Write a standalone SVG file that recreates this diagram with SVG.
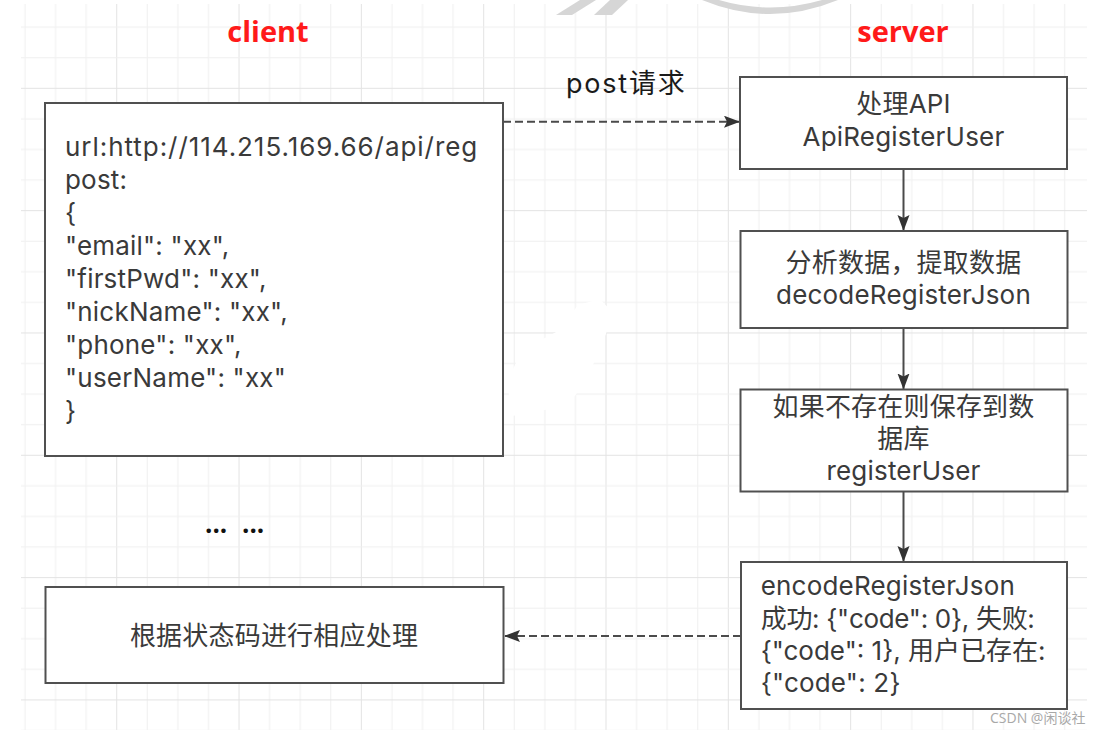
<svg xmlns="http://www.w3.org/2000/svg" width="1105" height="737" viewBox="0 0 1105 737">
<style>
.box{fill:#fff;stroke:#505050;stroke-width:2}
.t{font-family:Inter,"Noto Sans CJK SC",sans-serif;font-size:26px;fill:#3a3a3a;letter-spacing:0.2px}
.c{text-anchor:middle}
.title{font-family:"Open Sans","Noto Sans CJK SC",sans-serif;font-size:29px;font-weight:bold;fill:#ff1a1a;text-anchor:middle}
.edge{fill:none;stroke:#4a4a4a;stroke-width:2}
.dash{stroke-dasharray:8 4}
</style>
<defs>
<pattern id="grid" patternUnits="userSpaceOnUse" x="-6.1" y="-34.5" width="122.32" height="122.32">
<rect x="0" y="0" width="1" height="122.32" fill="#e3e3e3"/>
<rect x="30.58" y="0" width="1" height="122.32" fill="#f0f0f0"/>
<rect x="61.16" y="0" width="1" height="122.32" fill="#f0f0f0"/>
<rect x="91.74" y="0" width="1" height="122.32" fill="#f0f0f0"/>
<rect x="0" y="0" width="122.32" height="1" fill="#e3e3e3"/>
<rect x="0" y="30.58" width="122.32" height="1" fill="#f0f0f0"/>
<rect x="0" y="61.16" width="122.32" height="1" fill="#f0f0f0"/>
<rect x="0" y="91.74" width="122.32" height="1" fill="#f0f0f0"/>
</pattern>
<marker id="arr" markerUnits="userSpaceOnUse" markerWidth="18" markerHeight="14" refX="16" refY="6" orient="auto">
<path d="M0,0 L16,6 L0,12 L3,6 Z" fill="#333"/>
</marker>
</defs>
<rect width="1105" height="737" fill="#fff"/>
<rect x="21" y="4" width="1066" height="726" fill="url(#grid)"/>
<g id="artifacts">
<path d="M507,382 L522,350 L560,330 L578,305 L600,299 L614,314 L601,346 L590,372 L575,396 L545,410 L512,416 Z" fill="#fff"/>
<path d="M556,15 L572,15 L596,0 L580,0 Z" fill="#d6d6d6"/>
<path d="M594,15 L612,15 L628,0 L610,0 Z" fill="#d6d6d6"/>
<path d="M702,0 Q770,28 838,0 L822,0 Q770,15 719,0 Z" fill="#d6d6d6"/>
</g>
<text class="title" x="268" y="42">client</text>
<text class="title" x="903" y="42">server</text>
<g id="connectors">
<path class="edge dash" d="M503,121.7 L740,121.7" marker-end="url(#arr)"/>
<path class="edge" d="M903.5,169 L903.5,231" marker-end="url(#arr)"/>
<path class="edge" d="M903.5,328 L903.5,389.5" marker-end="url(#arr)"/>
<path class="edge" d="M903.5,491.5 L903.5,562" marker-end="url(#arr)"/>
<path class="edge dash" d="M741,636 L504,636" marker-end="url(#arr)"/>
<text x="566" y="93" style="font-family:Inter,'Noto Sans CJK SC',sans-serif;font-size:27px;fill:#1a1a1a;letter-spacing:1.8px">post请求</text>
</g>
<g id="client-request">
<rect class="box" x="45" y="103" width="458" height="353"/>
<text class="t" x="65" y="155.7" style="letter-spacing:0.95px">url:http://114.215.169.66/api/reg</text>
<text class="t" x="65" y="188.7">post:</text>
<text class="t" x="65" y="221.7">{</text>
<text class="t" x="65" y="254.7">"email": "xx",</text>
<text class="t" x="65" y="287.7">"firstPwd": "xx",</text>
<text class="t" x="65" y="320.7">"nickName": "xx",</text>
<text class="t" x="65" y="353.7">"phone": "xx",</text>
<text class="t" x="65" y="386.7">"userName": "xx"</text>
<text class="t" x="65" y="419.7">}</text>
</g>
<g id="api-handler">
<rect class="box" x="740" y="77" width="327" height="92"/>
<text class="t c" x="903.5" y="113">处理API</text>
<text class="t c" x="903.5" y="146">ApiRegisterUser</text>
</g>
<g id="decode">
<rect class="box" x="740.5" y="231" width="327" height="97"/>
<text class="t c" x="903.5" y="272">分析数据，提取数据</text>
<text class="t c" x="903.5" y="304">decodeRegisterJson</text>
</g>
<g id="register">
<rect class="box" x="740.5" y="389.5" width="327" height="102"/>
<text class="t c" x="903.5" y="416">如果不存在则保存到数</text>
<text class="t c" x="903.5" y="448">据库</text>
<text class="t c" x="903.5" y="480">registerUser</text>
</g>
<g id="encode">
<rect class="box" x="741" y="562" width="326" height="147"/>
<text class="t" x="760.7" y="595">encodeRegisterJson</text>
<text class="t" x="760.7" y="628" style="letter-spacing:-0.3px">成功: {"code": 0}, 失败:</text>
<text class="t" x="760.7" y="660" style="letter-spacing:0px">{"code": 1}, 用户已存在:</text>
<text class="t" x="760.7" y="692">{"code": 2}</text>
</g>
<g id="client-handle">
<rect class="box" x="45.5" y="587" width="458" height="96"/>
<text class="t c" x="274" y="645">根据状态码进行相应处理</text>
</g>
<text x="205" y="533" style="font-family:'Open Sans',sans-serif;font-size:26px;font-weight:bold;fill:#111">...</text>
<text x="242" y="533" style="font-family:'Open Sans',sans-serif;font-size:26px;font-weight:bold;fill:#111">...</text>
<text x="990" y="723" style="font-family:'Open Sans','Noto Sans CJK SC',sans-serif;font-size:14px;fill:#a8a8a8">CSDN @闲谈社</text>
</svg>
